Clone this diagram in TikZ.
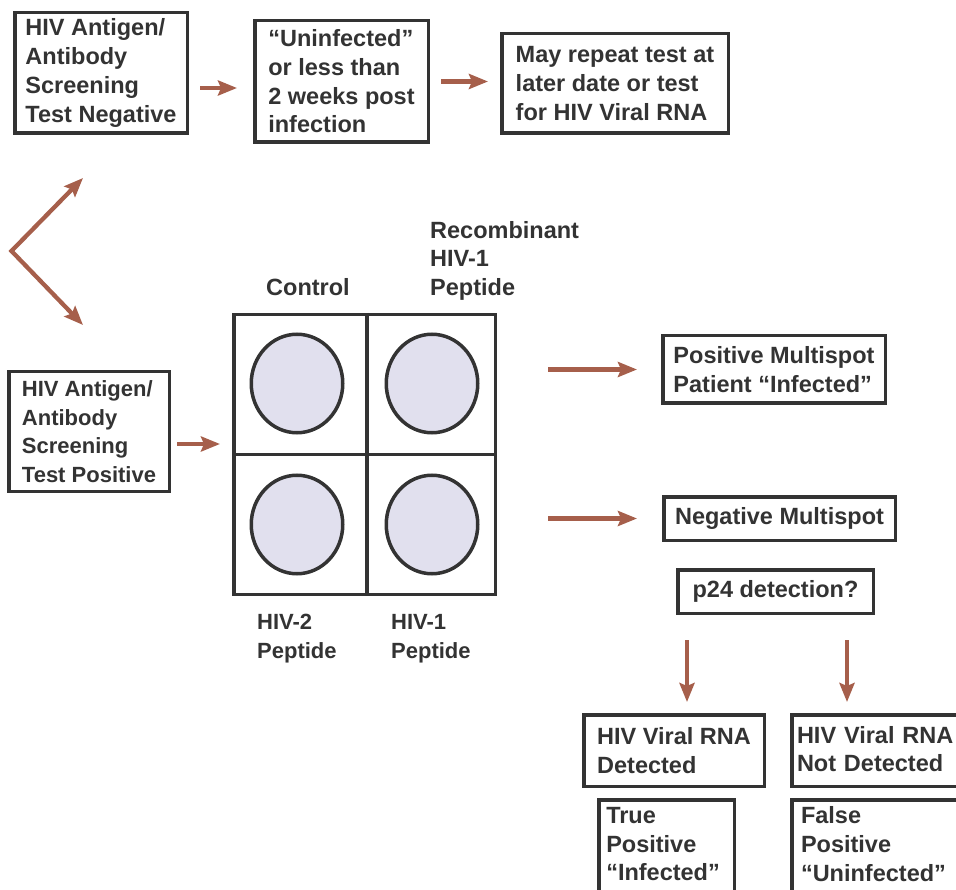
\documentclass[tikz,border=0pt]{standalone}
\usepackage{fontspec}
\setmainfont{Liberation Sans}
\usetikzlibrary{arrows.meta,calc}
\definecolor{ink}{HTML}{333333}
\definecolor{arrowred}{HTML}{A65F4B}
\definecolor{wellfill}{HTML}{E1E0EE}
\begin{document}
\begin{tikzpicture}[x=1pt,y=-1pt]
 \tikzset{every node/.style={text=ink, font=\bfseries\fontsize{23.5}{28.7}\selectfont},
   lesstext/.style={font=\bfseries\fontsize{22}{28.7}\selectfont},
   box/.style={draw=ink, line width=3.5pt, align=left, inner sep=4pt},
   plaintext/.style={anchor=north west, inner sep=0pt, align=left},
   well/.style={draw=ink, line width=3.5pt, fill=wellfill},
   flow/.style={-{Stealth[length=19pt,width=15pt,inset=3pt]}, line width=4.3pt, draw=arrowred}}
  \useasboundingbox (0,0) rectangle (956,890);
  \clip (0,0) rectangle (956,890);
  \node[box, minimum width=172.5pt, minimum height=120.5pt] (negscreen) at (101,73) {HIV Antigen/\\Antibody\\Screening\\Test Negative};
  \node[box, minimum width=173.5pt, minimum height=121.5pt] (uninf) at (341.5,81.5) {“Uninfected”\\or less than\\2 weeks post\\infection};
  \node[box, minimum width=226.5pt, minimum height=99.5pt] (repeatbox) at (615,83.5) {May repeat test at\\later date or test\\for HIV Viral RNA};
  \node[box, lesstext, minimum width=160.5pt, minimum height=119.5pt] (posscreen) at (89,431.5) {HIV Antigen/\\Antibody\\Screening\\Test Positive};
  \node[box, minimum width=261.5pt, minimum height=279.5pt] (strip) at (364.5,454.5) {};
  \draw[draw=ink, line width=3.5pt] ([xshift=2.5pt]strip.north) -- ([xshift=2.5pt]strip.south);
  \draw[draw=ink, line width=3.5pt] (strip.west) -- (strip.east);
  \draw[well] (297,383.5) ellipse [x radius=45.75pt, y radius=49.25pt];
  \draw[well] (432,383.5) ellipse [x radius=45.75pt, y radius=49.25pt];
  \draw[well] (297,524.5) ellipse [x radius=45.75pt, y radius=49.25pt];
  \draw[well] (432,524.5) ellipse [x radius=45.75pt, y radius=49.25pt];
  \node[plaintext] (ctrlLabel) at (266,278) {Control};
  \node[plaintext] (recLabel) at (430,221) {Recombinant\\HIV-1\\Peptide};
  \node[plaintext, lesstext] (hiv2Label) at (257,614) {HIV-2\\Peptide};
  \node[plaintext, lesstext] (hiv1Label) at (391,614) {HIV-1\\Peptide};
  \node[box, minimum width=222.5pt, minimum height=67.5pt] (posms) at (774,369.5) {Positive Multispot\\Patient “Infected”};
  \node[box, minimum width=231.5pt, minimum height=43.5pt] (negms) at (779.5,518.5) {Negative Multispot};
  \node[box, minimum width=195.5pt, minimum height=43.5pt] (p24) at (775.5,591.5) {p24 detection?};
  \node[box, minimum width=180.5pt, minimum height=71.5pt] (rnaPos) at (674,750.5) {HIV Viral RNA\\Detected};
  \node[box, anchor=north west, text width=200pt, inner xsep=5.25pt, inner ysep=11.5pt, text depth=31.75pt] (rnaNeg) at (790,713) {HIV Viral RNA\\Not Detected};
  \node[box, anchor=north west, text width=120.5pt, inner xsep=7.5pt, inner ysep=7.5pt, text depth=100pt] (truePos) at (597,798) {True\\Positive\\“Infected”};
  \node[box, anchor=north west, text width=200pt, inner xsep=9.25pt, inner ysep=7pt, text depth=100pt] (falsePos) at (790,798) {False\\Positive\\“Uninfected”};
  \coordinate (fork) at (11.5,251);
  \coordinate (upTip) at (83,178);
  \coordinate (downTip) at (83,325);
  \draw[flow, {Stealth[length=19pt,width=15pt,inset=3pt]}-{Stealth[length=19pt,width=15pt,inset=3pt]}] (upTip) -- (fork) -- (downTip);
  \draw[flow, shorten <=11pt, shorten >=16pt] ([yshift=-15pt]negscreen.east) -- ([yshift=-6.5pt]uninf.west);
  \draw[flow, shorten <=11pt, shorten >=12pt] (uninf.east) -- (uninf.east -| repeatbox.west);
  \draw[flow, shorten <=6pt, shorten >=12pt] ([yshift=-12.5pt]posscreen.east) -- ([yshift=10.5pt]strip.west);
  \draw[flow, shorten <=51pt, shorten >=24pt] (strip.east |- posms.west) -- (posms.west);
  \draw[flow, shorten <=51pt, shorten >=25pt] (strip.east |- negms.west) -- (negms.west);
  \draw[flow, shorten <=25pt, shorten >=11pt] ($(p24.south -| rnaPos.north)+(13,0)$) -- ($(rnaPos.north)+(13,0)$);
  \draw[flow, shorten <=25pt, shorten >=11pt] ($(p24.south -| rnaNeg.north west)+(57,0)$) -- ($(rnaNeg.north west)+(57,0)$);
\end{tikzpicture}
\end{document}
